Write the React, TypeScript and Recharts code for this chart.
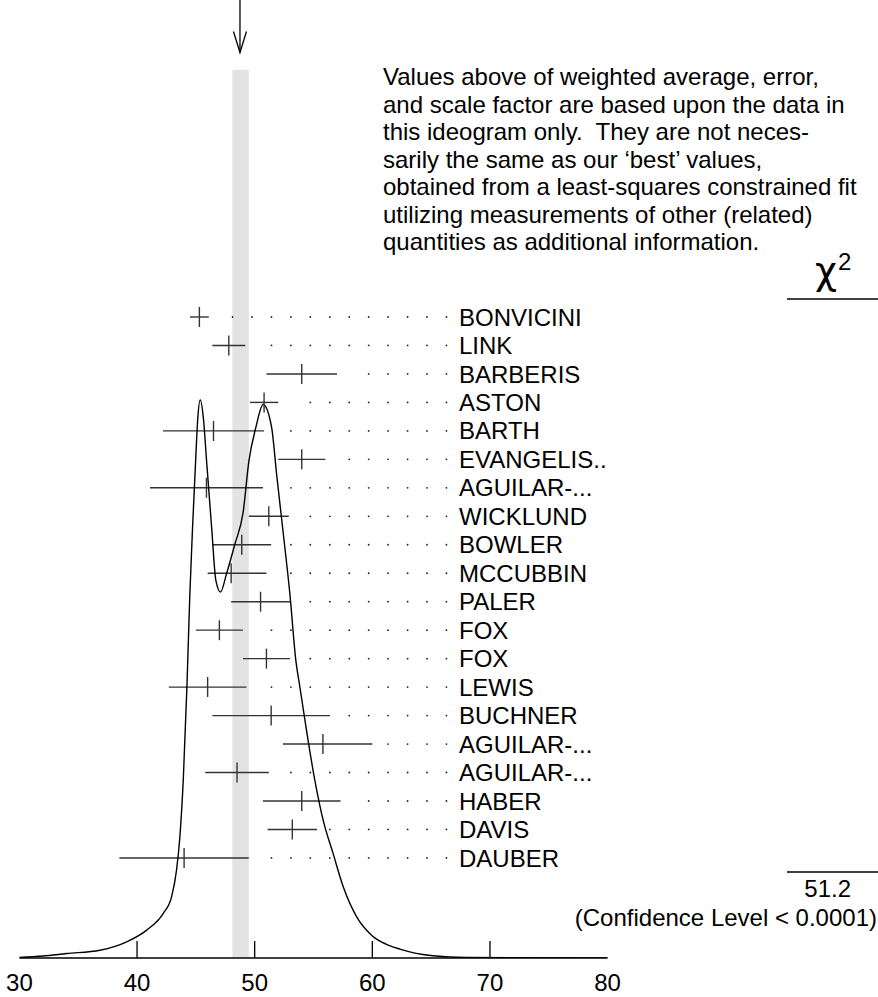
import { ComposedChart, Line, Scatter, ErrorBar, XAxis, YAxis, ReferenceArea, ReferenceDot } from 'recharts';

const FONT = '"Liberation Sans", Arial, Helvetica, sans-serif';

// ideogram curve (height normalised to the left peak)
const curveX = [30, 32, 34.02, 36.85, 39.12, 40.82, 42.23, 42.94, 43.36, 43.64, 43.93, 44.24, 44.49, 44.72, 44.98, 45.15, 45.37, 45.66, 45.91, 46.34, 46.7, 47.1, 47.61, 48.32, 49.02, 49.51, 50.1, 50.72, 51.44, 51.86, 52.37, 52.99, 53.5, 53.84, 55.11, 55.82, 56.67, 57.52, 58.66, 59.98, 61.15, 62.34, 65.17, 68, 80];
const curveH = [0.001, 0.0035, 0.008, 0.014, 0.029, 0.05, 0.08, 0.11, 0.158, 0.217, 0.319, 0.486, 0.653, 0.772, 0.891, 0.963, 1.0, 0.963, 0.891, 0.772, 0.677, 0.656, 0.689, 0.742, 0.799, 0.891, 0.951, 0.992, 0.951, 0.868, 0.772, 0.653, 0.533, 0.486, 0.319, 0.247, 0.187, 0.128, 0.074, 0.04, 0.025, 0.016, 0.004, 0.001, 0];

const authors = ['BONVICINI', 'LINK', 'BARBERIS', 'ASTON', 'BARTH', 'EVANGELIS...', 'AGUILAR-...', 'WICKLUND', 'BOWLER', 'MCCUBBIN', 'PALER', 'FOX', 'FOX', 'LEWIS', 'BUCHNER', 'AGUILAR-...', 'AGUILAR-...', 'HABER', 'DAVIS', 'DAUBER'];
const years = ['08A', '05I', '98E', '88', '83', '80', '78B', '78', '77', '75', '75', '74', '74', '73', '72', '71B', '71B', '70', '69', '67B'];
const experiments = ['CLEO', 'FOCS', 'OMEG', 'LASS', 'HBC', 'OMEG', 'HBC', 'ASPK', 'DBC', 'HBC', 'HBC', 'RVUE', 'RVUE', 'HBC', 'DBC', 'HBC', 'HBC', 'DBC', 'HBC', 'HBC'];
const chi2 = ['19.4', '0.4', '3.1', '2.9', '0.3', '6.9', '0.3', '2.1', '0.0', '0.1', '0.6', '0.8', '1.3', '0.7', '0.3', '4.3', '0.0', '2.5', '4.5', '0.7'];
const values = [45.3, 47.8, 54.0, 50.8, 46.5, 54.0, 45.9, 51.2, 48.9, 48.0, 50.5, 47.0, 51.0, 46.0, 51.4, 55.8, 48.5, 54.0, 53.2, 44.0];
const errLow = [0.8, 1.4, 3.0, 1.2, 4.3, 2.0, 4.8, 1.7, 2.5, 2.0, 2.5, 2.0, 2.0, 3.3, 5.0, 3.4, 2.7, 3.3, 2.1, 5.5];
const errHigh = [0.8, 1.4, 3.0, 1.2, 4.3, 2.0, 4.8, 1.7, 2.5, 3.0, 2.5, 2.0, 2.0, 3.3, 5.0, 4.2, 2.7, 3.3, 2.1, 5.5];

// dotted leaders between the error bars and the names
const leaderDots = [48.12, 49.77, 51.43, 53.08, 54.73, 56.39, 58.04, 59.69, 61.34, 63.0, 64.65, 66.3];
const leaderStart = [0, 2, 7, 4, 3, 6, 3, 4, 3, 3, 4, 2, 4, 2, 6, 8, 3, 7, 5, 2];

const xTicks = [30, 40, 50, 60, 70, 80];
const bandLow = 48.1;
const bandHigh = 49.5;
const bandTop = 1.592;
const average = 48.75;
const arrowTip = 1.623;
const chi2Total = '51.2';
const confidence = '(Confidence Level < 0.0001)';
const note = [
  'Values above of weighted average, error,',
  'and scale factor are based upon the data in',
  'this ideogram only.  They are not neces-',
  'sarily the same as our \u2018best\u2019 values,',
  'obtained from a least-squares constrained fit',
  'utilizing measurements of other (related)',
  'quantities as additional information.',
];

const curveData = curveX.map((x, i) => ({ x, h: curveH[i] }));
const measurements = values.map((x, i) => ({ x, row: i, err: [errLow[i], errHigh[i]] }));
const leaders = leaderStart.flatMap((start, row) => leaderDots.slice(start).map((x) => ({ x, row })));

const txt = { fontFamily: FONT, fontSize: 24, fill: '#000' };

const Measurement = (props: any) => {
  const { cx, cy, payload } = props;
  const i = payload.row;
  const ty = cy + 8.6;
  return (
    <g>
      <line x1={cx} x2={cx} y1={cy - 10} y2={cy + 10} stroke="#333" strokeWidth={1.4} />
      <text x={459} y={ty} {...txt}>{authors[i]}</text>
      <text x={638} y={ty} {...txt}>{years[i]}</text>
      <text x={709} y={ty} {...txt}>{experiments[i]}</text>
      <text x={851} y={ty} textAnchor="end" {...txt}>{chi2[i]}</text>
    </g>
  );
};

const LeaderDot = (props: any) => <circle cx={props.cx} cy={props.cy} r={0.9} fill="#222" />;

const Arrow = (props: any) => {
  const { cx, cy } = props;
  return (
    <g stroke="#000" strokeWidth={1.3} fill="none">
      <line x1={cx} x2={cx} y1={cy - 53} y2={cy} />
      <polyline points={`${cx - 6.5},${cy - 21} ${cx},${cy} ${cx + 6.5},${cy - 21}`} />
    </g>
  );
};

const AxisTick = (props: any) => {
  const { x, y, payload } = props;
  const v = payload.value;
  return (
    <g>
      {v !== 30 && v !== 80 && <line x1={x} x2={x} y1={y} y2={y - 17} stroke="#000" strokeWidth={1.3} />}
      <text x={x} y={y + 33} textAnchor="middle" {...txt}>{v}</text>
    </g>
  );
};

export default function App() {
  return (
    <div style={{ position: 'absolute', left: 0, top: 0, width: 878, height: 997, background: '#fff' }}>
      <ComposedChart width={878} height={997} margin={{ top: 43, right: 270.4, bottom: 9, left: 19.4 }}>
        <XAxis
          type="number"
          dataKey="x"
          domain={[30, 80]}
          ticks={xTicks}
          allowDataOverflow
          height={30}
          tickSize={0}
          tickMargin={0}
          tickLine={false}
          tick={AxisTick}
          axisLine={{ stroke: '#000', strokeWidth: 1.3 }}
        />
        <YAxis
          yAxisId="dens"
          type="number"
          domain={[0, 1.64]}
          allowDataOverflow
          width={0}
          tick={false}
          tickLine={false}
          axisLine={{ stroke: '#000', strokeWidth: 1.3 }}
        />
        <YAxis yAxisId="rows" type="number" dataKey="row" domain={[-9.624, 22.515]} reversed allowDataOverflow hide />
        <ReferenceArea yAxisId="dens" x1={bandLow} x2={bandHigh} y1={0} y2={bandTop} fill="#e3e3e3" fillOpacity={1} stroke="none" ifOverflow="visible" />
        <ReferenceDot yAxisId="dens" x={average} y={arrowTip} shape={Arrow} ifOverflow="visible" />
        <Scatter yAxisId="rows" data={leaders} shape={LeaderDot} isAnimationActive={false} />
        <Scatter yAxisId="rows" data={measurements} shape={Measurement} isAnimationActive={false}>
          <ErrorBar dataKey="err" direction="x" width={0} stroke="#333" strokeWidth={1.4} isAnimationActive={false} />
        </Scatter>
        <Line
          yAxisId="dens"
          data={curveData}
          dataKey="h"
          type="monotone"
          stroke="#000"
          strokeWidth={1.4}
          dot={false}
          activeDot={false}
          isAnimationActive={false}
        />
      </ComposedChart>
      <svg width={878} height={997} style={{ position: 'absolute', left: 0, top: 0, pointerEvents: 'none' }}>
        {note.map((line, i) => (
          <text key={i} x={383} y={85 + i * 27.5} {...txt} style={{ whiteSpace: 'pre' }}>{line}</text>
        ))}
        <text x={815} y={284} fontFamily='"DejaVu Sans", sans-serif' fontSize={38} fill="#000">χ</text>
        <text x={838} y={270} {...txt}>2</text>
        <line x1={787} x2={878} y1={299} y2={299} stroke="#000" strokeWidth={1.3} />
        <line x1={787} x2={878} y1={872} y2={872} stroke="#000" strokeWidth={1.3} />
        <text x={851} y={897} textAnchor="end" {...txt}>{chi2Total}</text>
        <text x={877} y={926} textAnchor="end" {...txt}>{confidence}</text>
      </svg>
    </div>
  );
}
